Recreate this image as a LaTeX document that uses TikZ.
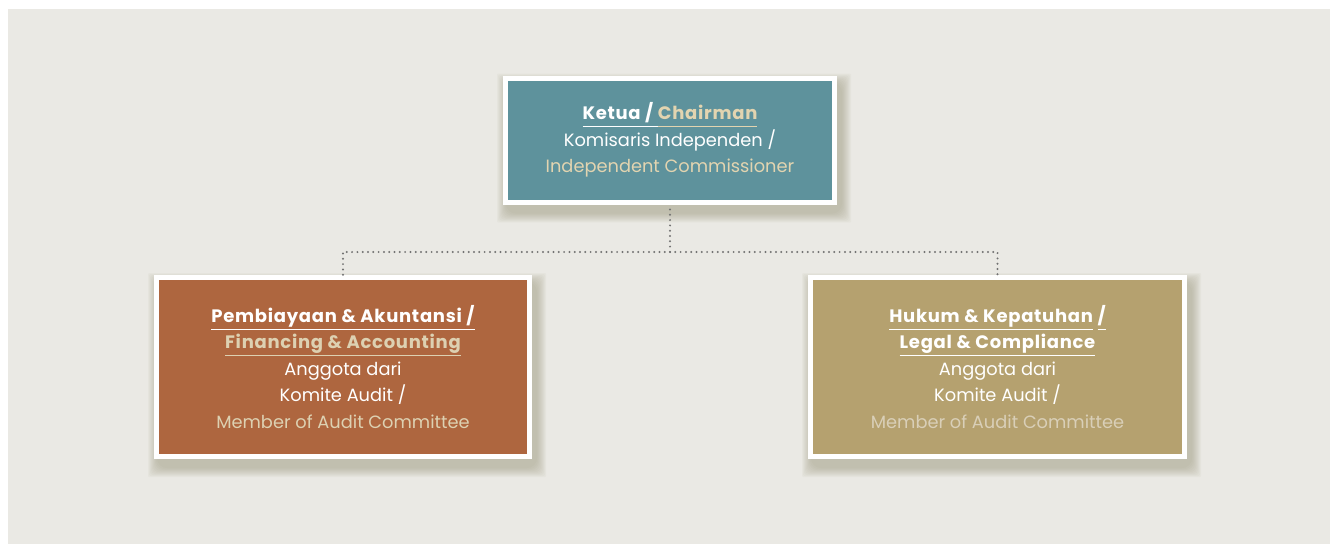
\documentclass[tikz,border=0pt]{standalone}
\usepackage{fontspec}
\setmainfont{Poppins}
\usetikzlibrary{backgrounds}
\definecolor{bgc}{HTML}{EAE9E4}
\definecolor{tealc}{HTML}{5E929C}
\definecolor{brownc}{HTML}{AE663F}
\definecolor{tanc}{HTML}{B5A16F}
\definecolor{cream}{HTML}{E2D4B0}
\definecolor{creamb}{HTML}{DDD1B2}
\definecolor{creamc}{HTML}{D9CFB8}
\definecolor{dotc}{HTML}{727272}
\definecolor{shadc}{HTML}{8F8B6A}
\newcommand\ulx[1]{\underline{\vphantom{gjpy}#1}}
\newcommand\bfx{\bfseries\fontsize{18}{26.5}\selectfont\addfontfeatures{LetterSpace=4}}
\tikzset{
  orgbox/.style={draw=white, line width=5pt, inner sep=0pt, align=center,
    text=white, font=\fontsize{17.8}{26.5}\selectfont},
  dotline/.style={draw=dotc, line width=2.2pt, line cap=round,
    dash pattern=on 0pt off 5.3pt},
}
\begin{document}
\begin{tikzpicture}[x=1pt,y=-1pt]
\useasboundingbox (0,0) rectangle (1330,544);
\node[orgbox, fill=tealc, minimum width=329pt, minimum height=124pt] (top) at (670,140)
  {\bfx\ulx{Ketua /\ }{\color{cream}\ulx{Chairman}}\\
   Komisaris Independen /\\
   {\color{cream}Independent Commissioner}};
\node[orgbox, fill=brownc, minimum width=373pt, minimum height=179pt] (left) at (343,367)
  {\bfx\ulx{Pembiayaan \& Akuntansi /}\\
   \bfx{\color{creamb}\ulx{Financing \& Accounting}}\\
   Anggota dari\\
   Komite Audit /\\
   {\color{creamb}Member of Audit Committee}};
\node[orgbox, fill=tanc, minimum width=374pt, minimum height=179pt] (right) at (997.5,367)
  {\bfx\ulx{Hukum \& Kepatuhan} \ulx{/}\\
   \bfx\ulx{Legal \& Compliance}\\
   Anggota dari\\
   Komite Audit /\\
   {\color{creamc}Member of Audit Committee}};
\coordinate (hub) at (670,252);
\draw[dotline] ([yshift=-5pt]top.south) -- (hub) -| (left.north);
\draw[dotline] (hub) -| (right.north);
\begin{scope}[on background layer]
  \fill[white] (0,0) rectangle (1330,544);
  \fill[bgc] (8,9) rectangle (1330,544);
  \foreach \n in {top,left,right}{
    \foreach \i in {1,...,10}{
      \fill[shadc, opacity=0.05, rounded corners=\i pt]
        ([shift={(4-11+\i,8-11+\i)}]\n.north west) rectangle
        ([shift={(4+11-\i,8+11-\i)}]\n.south east);
    }
  }
\end{scope}
\end{tikzpicture}
\end{document}
